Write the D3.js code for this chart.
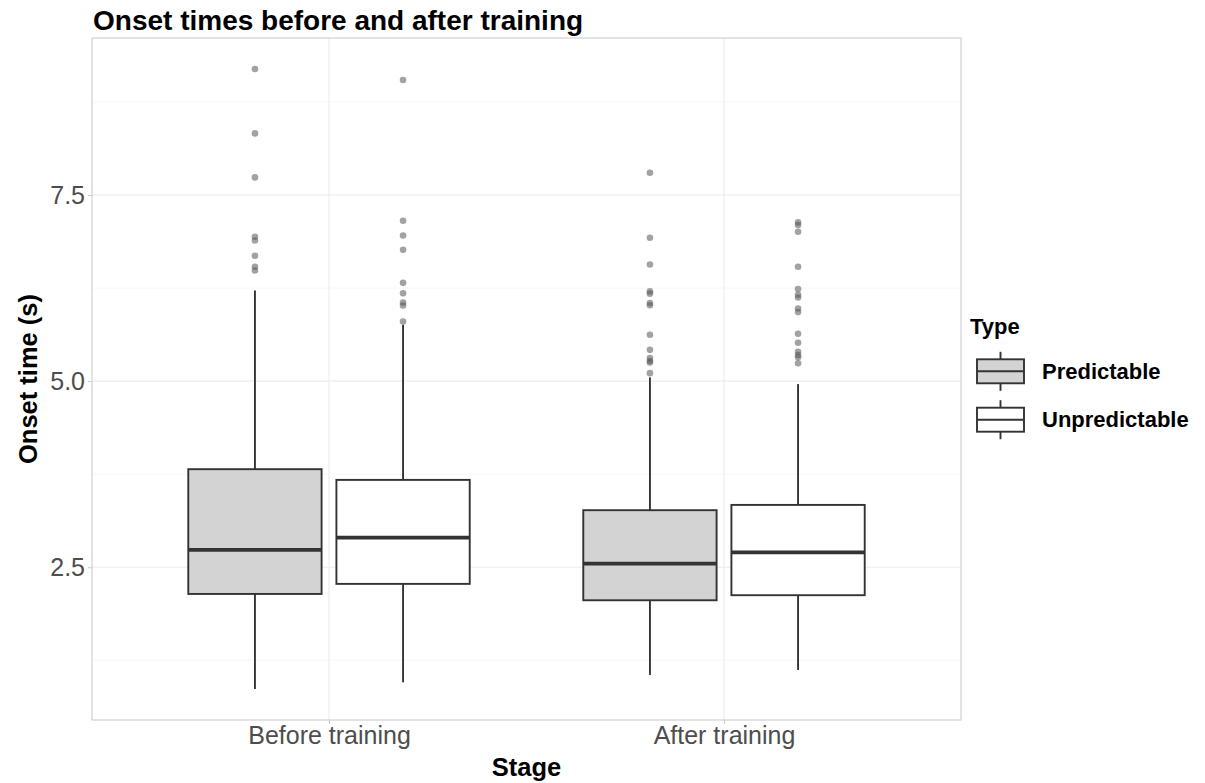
<!DOCTYPE html>
<html>
<head>
<meta charset="utf-8">
<script src="https://cdn.jsdelivr.net/npm/d3@7"></script>
<style>
  body { margin: 0; background: #fff; }
  svg { display: block; font-family: "Liberation Sans", Arial, sans-serif; }
</style>
</head>
<body>
<svg id="chart" width="1205" height="783"></svg>
<script>
// ---- data ----
const stages = ["Before training", "After training"];
const types = ["Predictable", "Unpredictable"];
const typeFills = ["#d3d3d3", "#ffffff"];

// rows: [stage index][type index]
const q1Values = [[2.141, 2.276], [2.056, 2.124]];
const medianValues = [[2.733, 2.898], [2.548, 2.700]];
const q3Values = [[3.817, 3.673], [3.266, 3.337]];
const whiskerLowValues = [[0.864, 0.954], [1.053, 1.120]];
const whiskerHighValues = [[6.218, 5.757], [5.050, 4.960]];
const outlierValues = [
  [
    [9.193, 8.328, 7.737, 6.940, 6.890, 6.684, 6.536, 6.487],
    [9.046, 7.155, 6.957, 6.765, 6.320, 6.180, 6.055, 6.016, 5.800]
  ],
  [
    [7.800, 6.926, 6.567, 6.205, 6.175, 6.048, 6.020, 5.622, 5.420, 5.309, 5.270, 5.250, 5.107],
    [7.132, 7.097, 7.007, 6.536, 6.237, 6.160, 6.124, 5.976, 5.927, 5.636, 5.515, 5.394, 5.350, 5.320, 5.240]
  ]
];
const yTickValues = [2.5, 5.0, 7.5];
const yMinorValues = [1.25, 3.75, 6.25, 8.75];

// ---- layout ----
const svg = d3.select("#chart");
const panel = { left: 92, right: 961, top: 38, bottom: 720 };
const FONT = "'Liberation Sans', Arial, sans-serif";

// y domain: data range with 5% expansion (as ggplot)
const allVals = [];
for (let s = 0; s < stages.length; s++) for (let t = 0; t < types.length; t++) {
  allVals.push(whiskerLowValues[s][t], whiskerHighValues[s][t], ...outlierValues[s][t]);
}
const dmin = d3.min(allVals), dmax = d3.max(allVals);
const ex = (dmax - dmin) * 0.05;
const y = d3.scaleLinear().domain([dmin - ex, dmax + ex]).range([panel.bottom, panel.top]);

const x = d3.scalePoint().domain(stages).range([panel.left, panel.right]).padding(0.6);
const step = x.step();
const dodge = d3.scaleBand().domain(types).range([-0.375 * step, 0.375 * step]);
const boxW = dodge.bandwidth() * 0.9;

// panel background + grid
const g = svg.append("g");
g.append("rect").attr("x", panel.left).attr("y", panel.top)
  .attr("width", panel.right - panel.left).attr("height", panel.bottom - panel.top)
  .attr("fill", "#ffffff");

g.selectAll(".minor").data(yMinorValues).enter().append("line")
  .attr("x1", panel.left).attr("x2", panel.right)
  .attr("y1", d => y(d)).attr("y2", d => y(d))
  .attr("stroke", "#f4f4f4").attr("stroke-width", 0.8);
g.selectAll(".major").data(yTickValues).enter().append("line")
  .attr("x1", panel.left).attr("x2", panel.right)
  .attr("y1", d => y(d)).attr("y2", d => y(d))
  .attr("stroke", "#ececec").attr("stroke-width", 1.1);
g.selectAll(".vmajor").data(stages).enter().append("line")
  .attr("x1", d => x(d)).attr("x2", d => x(d))
  .attr("y1", panel.top).attr("y2", panel.bottom)
  .attr("stroke", "#ececec").attr("stroke-width", 1.1);

// boxes
const boxes = [];
stages.forEach((st, s) => types.forEach((tp, t) => {
  boxes.push({ st, tp, s, t,
    cx: x(st) + dodge(tp) + dodge.bandwidth() / 2,
    q1: q1Values[s][t], med: medianValues[s][t], q3: q3Values[s][t],
    lo: whiskerLowValues[s][t], hi: whiskerHighValues[s][t],
    out: outlierValues[s][t], fill: typeFills[t] });
}));

const bg = g.selectAll(".box").data(boxes).enter().append("g");
bg.append("line").attr("x1", d => d.cx).attr("x2", d => d.cx)
  .attr("y1", d => y(d.q3)).attr("y2", d => y(d.hi))
  .attr("stroke", "#333333").attr("stroke-width", 1.9);
bg.append("line").attr("x1", d => d.cx).attr("x2", d => d.cx)
  .attr("y1", d => y(d.q1)).attr("y2", d => y(d.lo))
  .attr("stroke", "#333333").attr("stroke-width", 1.9);
bg.append("rect")
  .attr("x", d => d.cx - boxW / 2).attr("width", boxW)
  .attr("y", d => y(d.q3)).attr("height", d => y(d.q1) - y(d.q3))
  .attr("fill", d => d.fill).attr("stroke", "#333333").attr("stroke-width", 1.9);
bg.append("line")
  .attr("x1", d => d.cx - boxW / 2).attr("x2", d => d.cx + boxW / 2)
  .attr("y1", d => y(d.med)).attr("y2", d => y(d.med))
  .attr("stroke", "#333333").attr("stroke-width", 3.8);
bg.each(function(d) {
  d3.select(this).selectAll("circle").data(d.out).enter().append("circle")
    .attr("cx", d.cx).attr("cy", v => y(v)).attr("r", 3.3)
    .attr("fill", "#555555").attr("fill-opacity", 0.55);
});

// panel border
g.append("rect").attr("x", panel.left).attr("y", panel.top)
  .attr("width", panel.right - panel.left).attr("height", panel.bottom - panel.top)
  .attr("fill", "none").attr("stroke", "#cccccc").attr("stroke-width", 1.1);

// axes
const yAxis = d3.axisLeft(y).tickValues(yTickValues).tickFormat(d3.format(".1f"))
  .tickSize(4).tickPadding(3);
const ya = svg.append("g").attr("transform", `translate(${panel.left},0)`).call(yAxis);
ya.select(".domain").remove();
ya.selectAll(".tick line").attr("stroke", "#cccccc").attr("stroke-width", 1.1);
ya.selectAll(".tick text").attr("fill", "#4d4d4d").style("font-size", "25px")
  .style("font-family", FONT);

const xAxis = d3.axisBottom(x).tickSize(4).tickPadding(2);
const xa = svg.append("g").attr("transform", `translate(0,${panel.bottom})`).call(xAxis);
xa.select(".domain").remove();
xa.selectAll(".tick line").attr("stroke", "#cccccc").attr("stroke-width", 1.1);
xa.selectAll(".tick text").attr("fill", "#4d4d4d").style("font-size", "25px")
  .style("font-family", FONT);

// titles
svg.append("text").attr("x", 93).attr("y", 30)
  .style("font-size", "28px").style("font-weight", "bold").attr("fill", "#000")
  .text("Onset times before and after training");
svg.append("text").attr("x", (panel.left + panel.right) / 2).attr("y", 776)
  .attr("text-anchor", "middle")
  .style("font-size", "25.5px").style("font-weight", "bold").attr("fill", "#000")
  .text("Stage");
svg.append("text")
  .attr("transform", `translate(37,${(panel.top + panel.bottom) / 2}) rotate(-90)`)
  .attr("text-anchor", "middle")
  .style("font-size", "25.5px").style("font-weight", "bold").attr("fill", "#000")
  .text("Onset time (s)");

// legend
const lg = svg.append("g");
lg.append("text").attr("x", 970).attr("y", 334)
  .style("font-size", "22px").style("font-weight", "bold").attr("fill", "#000")
  .text("Type");
const keyX = 977, keyW = 47;
const keyTops = [359.3, 407.7];
types.forEach((tp, i) => {
  const top = keyTops[i];
  const k = lg.append("g");
  const cx = keyX + keyW / 2;
  k.append("line").attr("x1", cx).attr("x2", cx).attr("y1", top - 7.5).attr("y2", top + 31.5)
    .attr("stroke", "#333333").attr("stroke-width", 1.9);
  k.append("rect").attr("x", keyX).attr("y", top).attr("width", keyW).attr("height", 24)
    .attr("fill", typeFills[i]).attr("stroke", "#333333").attr("stroke-width", 1.9);
  k.append("line").attr("x1", keyX).attr("x2", keyX + keyW).attr("y1", top + 12).attr("y2", top + 12)
    .attr("stroke", "#333333").attr("stroke-width", 1.9);
  k.append("text").attr("x", 1042).attr("y", top + 12).attr("dy", "0.35em")
    .style("font-size", "22px").style("font-weight", "bold").attr("fill", "#000")
    .text(tp);
});
</script>
</body>
</html>
